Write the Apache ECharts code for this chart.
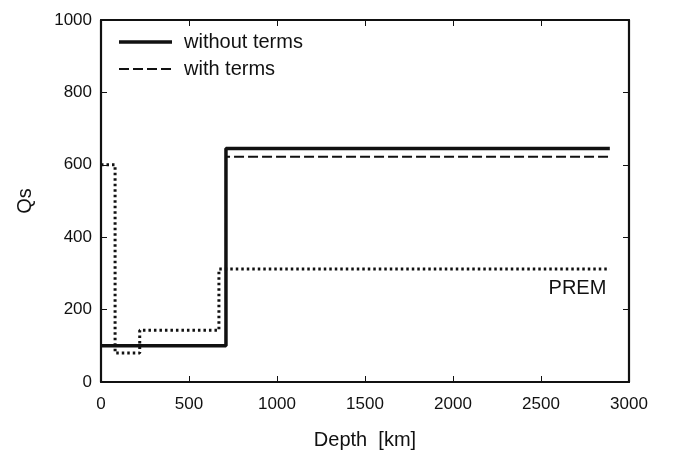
<!DOCTYPE html>
<html><head><meta charset="utf-8">
<script src="https://cdn.jsdelivr.net/npm/echarts@6/dist/echarts.min.js"></script>
<style>html,body{margin:0;padding:0;background:#fff}#c{width:675px;height:453px}</style>
</head><body><div id="c"></div>
<script>
// Depth (km), Qs values: step profiles (each point = start of a layer, last = end depth)
const withoutTerms = [[0,100],[710,645],[2891,645]];
const withTerms = [[0,100],[710,622],[2891,622]];
const prem = [[0,600],[80,80],[220,143],[670,312],[2891,312]];
const premLabelPos = [2707,257];
const xTicks = [0,500,1000,1500,2000,2500,3000];
const yTicks = [0,200,400,600,800,1000];

const font = 'Liberation Sans, Arial, sans-serif';
const chart = echarts.init(document.getElementById('c'), null, {renderer:'canvas'});
const axisCommon = {
  axisLine:{show:true,onZero:false,lineStyle:{color:'#111',width:2.2}},
  axisTick:{show:true,inside:true,length:6,lineStyle:{color:'#111',width:1}},
  splitLine:{show:false}
};
const fmt = v => String(v);
chart.setOption({
  animation:false,
  textStyle:{fontFamily:font},
  grid:{left:101,right:46,top:20,bottom:71,containLabel:false,outerBoundsMode:'none'},
  xAxis:[
    Object.assign({type:'value',min:xTicks[0],max:xTicks[xTicks.length-1],interval:xTicks[1]-xTicks[0],position:'bottom',
      name:'Depth  [km]',nameLocation:'middle',nameGap:48,
      nameTextStyle:{fontSize:20,color:'#111',fontFamily:font},
      axisLabel:{fontSize:17,color:'#111',margin:14,fontFamily:font,formatter:fmt}},axisCommon),
    Object.assign({type:'value',min:xTicks[0],max:xTicks[xTicks.length-1],interval:xTicks[1]-xTicks[0],position:'top',axisLabel:{show:false}},axisCommon)
  ],
  yAxis:[
    Object.assign({type:'value',min:yTicks[0],max:yTicks[yTicks.length-1],interval:yTicks[1]-yTicks[0],position:'left',
      name:'Qs',nameLocation:'middle',nameGap:66,nameRotate:90,
      nameTextStyle:{fontSize:20,color:'#111',fontFamily:font},
      axisLabel:{fontSize:17,color:'#111',margin:9,fontFamily:font,formatter:fmt}},axisCommon),
    Object.assign({type:'value',min:yTicks[0],max:yTicks[yTicks.length-1],interval:yTicks[1]-yTicks[0],position:'right',axisLabel:{show:false}},axisCommon)
  ],
  series:[
    {name:'PREM',type:'line',step:'end',data:prem,symbol:'none',z:1,
      lineStyle:{color:'#111',width:3,type:[2.5,3]}},
    {name:'with terms',type:'line',step:'end',data:withTerms,symbol:'none',z:2,
      lineStyle:{color:'#111',width:2,type:[10,4]}},
    {name:'without terms',type:'line',step:'end',data:withoutTerms,symbol:'none',z:3,
      lineStyle:{color:'#111',width:3.5}}
  ]
});
const p = chart.convertToPixel({xAxisIndex:0,yAxisIndex:0}, premLabelPos);
chart.setOption({graphic:[
  {type:'line',shape:{x1:119,y1:42,x2:172,y2:42},style:{stroke:'#111',lineWidth:3.5}},
  {type:'text',x:184,y:42,style:{text:'without terms',font:'20px '+font,fill:'#111',textVerticalAlign:'middle',verticalAlign:'middle'}},
  {type:'line',shape:{x1:119,y1:69,x2:172,y2:69},style:{stroke:'#111',lineWidth:2,lineDash:[10,4]}},
  {type:'text',x:184,y:69,style:{text:'with terms',font:'20px '+font,fill:'#111',textVerticalAlign:'middle',verticalAlign:'middle'}},
  {type:'text',x:p[0],y:p[1],style:{text:'PREM',font:'20px '+font,fill:'#111',align:'center',verticalAlign:'middle',textAlign:'center',textVerticalAlign:'middle'}}
]});
</script></body></html>
